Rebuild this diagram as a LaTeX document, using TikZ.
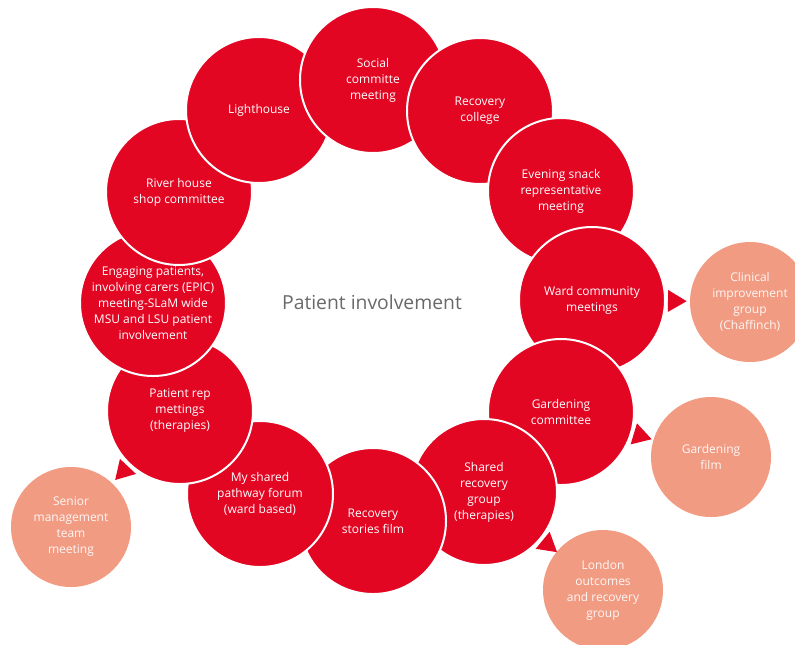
\documentclass[tikz,border=0pt]{standalone}
\usepackage{fontspec}
\setmainfont{Open Sans}
\usetikzlibrary{calc}
\definecolor{slamred}{RGB}{226,6,35}
\definecolor{slampink}{RGB}{241,155,131}
\definecolor{titlegrey}{RGB}{105,105,105}
\newcommand{\pointer}[2]{%
  \path ($(#1.center)!57pt!(#2.center)$) coordinate (#1base)
        ($(#1.center)!71pt!(#2.center)$) coordinate (#1tip);
  \fill[slamred] ($(#1base)!8.25pt!90:(#1tip)$) -- (#1tip) -- ($(#1base)!8.25pt!-90:(#1tip)$) -- cycle;}

\begin{document}
\begin{tikzpicture}[x=0.75pt, y=-0.75pt,
item/.style={circle, fill=slamred, draw=white, line width=1.5pt, minimum size=109.5pt, inner sep=0pt, align=center, text=white, font=\fontsize{9}{12}\selectfont},
outcome/.style={circle, fill=slampink, minimum size=90pt, inner sep=0pt, align=center, text=white!92!slampink, font=\fontsize{9}{12}\selectfont}
]
\useasboundingbox (0,0) rectangle (795,644);
\node[item] (social) at (373,80) {Social\\committe\\meeting};
\node[item] (college) at (480,111) {Recovery\\college};
\node[item] (evening) at (561,191) {Evening snack\\representative\\meeting};
\node[item] (ward) at (592,300) {Ward community\\meetings};
\node[item] (gardening) at (561,412) {Gardening\\committee};
\node[item] (shared) at (484,492) {Shared\\recovery\\group\\(therapies)};
\node[item] (stories) at (373,521) {Recovery\\stories film};
\node[item] (pathway) at (260,494) {My shared\\pathway forum\\(ward based)};
\node[item] (patrep) at (180,411) {Patient rep\\mettings\\(therapies)};
\node[item] (epic) at (153,303) {Engaging patients,\\involving carers (EPIC)\\meeting-SLaM wide\\MSU and LSU patient\\involvement};
\node[item] (river) at (179,192) {River house\\shop committee};
\node[item] (lighthouse) at (259,110) {Lighthouse};
\begin{scope}
\clip (social.center) ++(-80,-80) rectangle ++(43,160);
\fill[slamred, draw=white, line width=1.5pt] (social.center) circle[radius=54.75pt];
\end{scope}
\node[outcome] (clinical) at (750,302) {Clinical\\improvement\\group\\(Chaffinch)};
\node[outcome] (film) at (711,457) {Gardening\\film};
\node[outcome] (london) at (603,590) {London\\outcomes\\and recovery\\group};
\node[outcome] (senior) at (71,527) {Senior\\management\\team\\meeting};
\node[font=\fontsize{14.5}{17}\selectfont, text=titlegrey] (title) at (372,302) {Patient involvement};
\pointer{ward}{clinical}
\pointer{gardening}{film}
\pointer{shared}{london}
\pointer{patrep}{senior}
\end{tikzpicture}
\end{document}
